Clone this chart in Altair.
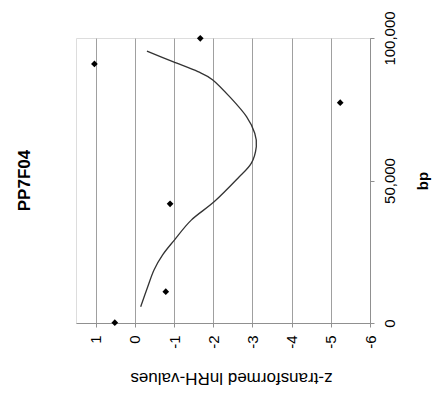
import altair as alt
import pandas as pd

# scatter points (z-transformed lnRH value, position in bp)
point_z = [1.03, -1.67, -5.24, -0.90, -0.79, 0.51]
point_bp = [90900, 99900, 77300, 41800, 11000, 100]

# trend curve
curve_bp = [5700, 12700, 18600, 23900, 29100, 36100, 42600, 50800, 56000,
            61900, 66600, 72400, 78800, 85300, 88200, 91700, 95400]
curve_z = [-0.15, -0.33, -0.49, -0.71, -1.01, -1.44, -2.03, -2.63, -2.97,
           -3.10, -3.06, -2.85, -2.46, -1.99, -1.61, -0.97, -0.31]

z_ticks = [1, 0, -1, -2, -3, -4, -5, -6]
bp_ticks = [0, 50000, 100000]

pts = pd.DataFrame({"z": point_z, "bp": point_bp})
crv = pd.DataFrame({"z": curve_z, "bp": curve_bp, "i": list(range(len(curve_bp)))})

FONT = "Liberation Sans"

x_enc = alt.X(
    "z:Q",
    scale=alt.Scale(domain=[-6, 1.5], reverse=True, nice=False, zero=False),
    axis=alt.Axis(
        values=z_ticks, title="z-transformed lnRH-values", titleAngle=180,
        titleX=155, titleY=54, titleAlign="center", titleBaseline="middle",
        labelExpr="'' + datum.value",
        labelAngle=270, labelFontSize=15, titleFontSize=17, titleFontWeight="normal",
        labelFont=FONT, titleFont=FONT, labelColor="black", titleColor="black",
        grid=True, gridColor="#a0a0a0", gridWidth=1, domainColor="#909090",
        tickColor="#909090", tickSize=4, labelPadding=8,
        labelFlush=False,
    ),
)
y_enc = alt.Y(
    "bp:Q",
    scale=alt.Scale(domain=[0, 100000], nice=False),
    axis=alt.Axis(
        orient="right", values=bp_ticks, title="bp", titleAngle=270,
        labelExpr="format(datum.value, ',')",
        labelAngle=270, labelFontSize=15, titleFontSize=15, titleFontWeight="bold",
        labelFont=FONT, titleFont=FONT, labelColor="black", titleColor="black",
        grid=False, domainColor="#909090", tickColor="#909090", tickSize=4,
        labelPadding=8, titlePadding=33, labelFlush=False,
    ),
)

line = alt.Chart(crv).mark_line(color="#333333", strokeWidth=1.3, interpolate="cardinal").encode(
    x=x_enc, y=y_enc, order="i:Q"
)
dots = alt.Chart(pts).mark_point(shape="diamond", filled=True, color="black", size=45, opacity=1).encode(
    x=x_enc, y=y_enc
)

chart = alt.layer(line, dots).properties(
    width=294, height=285,
    title=alt.TitleParams("PP7F04", orient="left", anchor="middle", angle=270,
                          fontSize=17, fontWeight="bold", font=FONT, color="black", offset=42),
    autosize=alt.AutoSizeParams(type="none"),
    padding={"left": 76, "top": 38, "right": 65, "bottom": 75},
).configure_view(stroke=None).configure(background="white")

chart.save("out.html", embed_options={"renderer": "svg", "actions": False})
